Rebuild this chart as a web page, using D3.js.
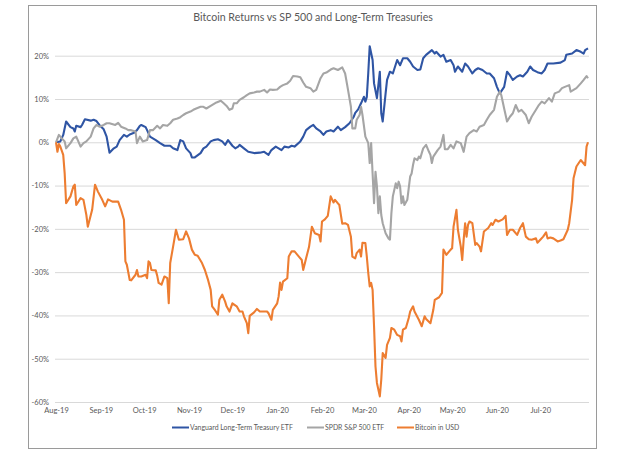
<!DOCTYPE html>
<html>
<head>
<meta charset="utf-8">
<script src="https://cdn.jsdelivr.net/npm/d3@7"></script>
<style>
  html, body { margin: 0; padding: 0; background: #fff; }
  svg { display: block; }
</style>
</head>
<body>
<div id="chart"></div>
<script>
// --- Data (cumulative return, %) ---
const treasuryDates = ["2019-08-01","2019-08-04","2019-08-06","2019-08-08","2019-08-11","2019-08-13","2019-08-14","2019-08-15","2019-08-18","2019-08-19","2019-08-21","2019-08-25","2019-08-27","2019-08-29","2019-08-31","2019-09-03","2019-09-05","2019-09-07","2019-09-10","2019-09-12","2019-09-14","2019-09-17","2019-09-19","2019-09-21","2019-09-24","2019-09-26","2019-09-28","2019-09-29","2019-10-02","2019-10-03","2019-10-05","2019-10-09","2019-10-12","2019-10-15","2019-10-19","2019-10-21","2019-10-24","2019-10-26","2019-10-28","2019-10-30","2019-11-02","2019-11-03","2019-11-05","2019-11-09","2019-11-11","2019-11-13","2019-11-16","2019-11-18","2019-11-21","2019-11-24","2019-11-26","2019-11-28","2019-12-01","2019-12-03","2019-12-05","2019-12-06","2019-12-09","2019-12-12","2019-12-16","2019-12-20","2019-12-23","2019-12-26","2019-12-28","2019-12-31","2020-01-02","2020-01-04","2020-01-06","2020-01-09","2020-01-11","2020-01-13","2020-01-17","2020-01-19","2020-01-21","2020-01-24","2020-01-26","2020-01-28","2020-01-31","2020-02-02","2020-02-04","2020-02-07","2020-02-09","2020-02-12","2020-02-14","2020-02-17","2020-02-20","2020-02-23","2020-02-24","2020-02-26","2020-02-28","2020-03-01","2020-03-02","2020-03-03","2020-03-04","2020-03-05","2020-03-07","2020-03-08","2020-03-10","2020-03-12","2020-03-13","2020-03-14","2020-03-16","2020-03-17","2020-03-19","2020-03-21","2020-03-24","2020-03-26","2020-03-28","2020-03-31","2020-04-02","2020-04-04","2020-04-07","2020-04-09","2020-04-11","2020-04-13","2020-04-17","2020-04-19","2020-04-20","2020-04-23","2020-04-25","2020-04-27","2020-04-30","2020-05-02","2020-05-03","2020-05-05","2020-05-08","2020-05-10","2020-05-12","2020-05-15","2020-05-17","2020-05-19","2020-05-22","2020-05-25","2020-05-27","2020-05-30","2020-06-01","2020-06-03","2020-06-06","2020-06-08","2020-06-10","2020-06-12","2020-06-15","2020-06-17","2020-06-19","2020-06-22","2020-06-24","2020-06-26","2020-06-29","2020-07-02","2020-07-04","2020-07-06","2020-07-10","2020-07-15","2020-07-18","2020-07-19","2020-07-23","2020-07-26","2020-07-29","2020-07-31","2020-08-01","2020-08-03"];
const treasuryValues = [0.0,0.2,1.7,4.8,3.5,3.2,2.5,3.8,3.5,4.0,5.3,5.0,5.2,4.9,4.0,3.0,1.3,-2.4,-1.4,-1.0,0.5,1.7,1.3,1.8,2.2,2.8,3.8,4.0,3.5,2.8,1.3,0.5,-0.2,-0.8,-0.8,-1.4,-1.8,0.5,0.2,-1.4,-2.5,-3.5,-3.5,-2.5,-1.4,-1.0,0.2,0.5,0.7,0.2,-0.6,0.5,-0.8,-1.4,-1.0,-0.6,-1.4,-2.2,-2.5,-2.4,-2.2,-2.9,-1.8,-1.0,-1.4,-1.8,-1.0,-1.2,-0.8,-1.0,0.2,1.3,2.8,3.6,4.0,3.2,2.5,1.7,2.5,2.8,2.5,3.6,2.8,3.5,4.4,5.9,6.8,7.6,9.0,10.5,9.4,10.5,16.0,22.2,19.0,13.6,10.2,16.3,6.7,4.8,11.3,14.4,16.3,15.9,19.0,17.8,19.4,19.4,18.6,17.5,16.7,16.8,19.4,20.2,21.3,20.5,20.9,19.8,20.2,18.6,19.0,17.8,16.3,17.5,16.3,18.2,17.5,15.9,16.7,17.1,16.7,15.9,15.9,14.8,12.8,11.3,12.8,16.3,15.5,14.4,15.2,15.5,15.2,16.3,17.5,16.7,16.2,15.9,16.7,18.2,18.2,18.4,19.0,20.2,20.5,21.3,20.9,20.5,21.3,21.7];

const spyDates = ["2019-08-01","2019-08-03","2019-08-05","2019-08-07","2019-08-08","2019-08-11","2019-08-13","2019-08-15","2019-08-18","2019-08-20","2019-08-22","2019-08-25","2019-08-27","2019-08-29","2019-08-31","2019-09-03","2019-09-05","2019-09-07","2019-09-11","2019-09-13","2019-09-15","2019-09-18","2019-09-20","2019-09-22","2019-09-25","2019-09-26","2019-09-28","2019-09-30","2019-10-03","2019-10-05","2019-10-07","2019-10-10","2019-10-12","2019-10-14","2019-10-17","2019-10-19","2019-10-21","2019-10-24","2019-10-26","2019-10-28","2019-10-30","2019-11-02","2019-11-04","2019-11-06","2019-11-09","2019-11-11","2019-11-13","2019-11-16","2019-11-18","2019-11-20","2019-11-23","2019-11-25","2019-11-27","2019-11-29","2019-12-01","2019-12-02","2019-12-04","2019-12-06","2019-12-09","2019-12-11","2019-12-13","2019-12-16","2019-12-18","2019-12-20","2019-12-23","2019-12-25","2019-12-27","2019-12-29","2020-01-01","2020-01-03","2020-01-05","2020-01-08","2020-01-10","2020-01-12","2020-01-15","2020-01-17","2020-01-19","2020-01-21","2020-01-24","2020-01-26","2020-01-28","2020-01-31","2020-02-02","2020-02-04","2020-02-07","2020-02-09","2020-02-12","2020-02-15","2020-02-17","2020-02-19","2020-02-21","2020-02-22","2020-02-24","2020-02-25","2020-02-27","2020-02-28","2020-02-29","2020-03-02","2020-03-04","2020-03-05","2020-03-06","2020-03-07","2020-03-08","2020-03-09","2020-03-10","2020-03-11","2020-03-12","2020-03-13","2020-03-14","2020-03-16","2020-03-18","2020-03-19","2020-03-20","2020-03-21","2020-03-23","2020-03-24","2020-03-25","2020-03-26","2020-03-27","2020-03-28","2020-03-29","2020-03-31","2020-04-01","2020-04-02","2020-04-03","2020-04-04","2020-04-05","2020-04-07","2020-04-08","2020-04-09","2020-04-10","2020-04-11","2020-04-12","2020-04-13","2020-04-15","2020-04-16","2020-04-17","2020-04-18","2020-04-21","2020-04-23","2020-04-25","2020-04-26","2020-04-28","2020-04-30","2020-05-02","2020-05-04","2020-05-07","2020-05-09","2020-05-11","2020-05-13","2020-05-16","2020-05-18","2020-05-20","2020-05-23","2020-05-25","2020-05-27","2020-05-30","2020-06-01","2020-06-03","2020-06-04","2020-06-06","2020-06-08","2020-06-10","2020-06-12","2020-06-14","2020-06-16","2020-06-18","2020-06-21","2020-06-23","2020-06-25","2020-06-28","2020-06-30","2020-07-02","2020-07-04","2020-07-07","2020-07-09","2020-07-11","2020-07-14","2020-07-16","2020-07-18","2020-07-21","2020-07-22","2020-07-24","2020-07-26","2020-07-29","2020-07-31","2020-08-02","2020-08-03"];
const spyValues = [0.0,1.7,0.9,0.2,-1.4,-0.2,0.9,1.3,-1.0,-0.2,0.2,1.3,3.2,4.0,3.6,4.0,4.4,4.4,4.0,4.5,3.6,3.2,2.8,2.8,2.5,-0.2,1.3,0.2,0.5,2.8,2.8,3.8,3.2,4.0,3.8,4.4,5.2,5.5,5.8,6.3,6.7,7.1,7.5,7.8,8.2,8.2,7.8,8.4,8.8,9.2,9.6,9.0,8.4,7.5,7.8,9.0,9.0,9.8,10.4,10.9,11.3,11.5,11.7,11.7,12.1,11.5,12.2,12.1,12.2,12.8,13.2,13.6,14.2,15.3,15.2,15.0,13.8,12.8,12.5,11.7,12.1,14.8,15.9,16.1,16.8,17.1,16.7,17.3,15.9,12.1,8.2,3.2,3.2,5.2,6.3,8.2,6.3,1.3,-0.2,-4.8,-0.2,-7.2,-14.1,-6.8,-10.2,-16.4,-12.5,-16.8,-18.7,-21.0,-22.2,-22.5,-16.4,-12.5,-9.5,-10.6,-9.1,-10.2,-14.1,-12.5,-14.5,-13.3,-10.6,-7.9,-7.2,-5.2,-3.7,-4.1,-3.3,-3.7,-2.5,-1.4,-1.0,-0.6,-2.2,-2.9,-4.8,-3.3,-1.8,-1.0,1.7,-1.6,-1.6,-0.6,-1.4,0.2,-0.2,-2.2,1.3,2.1,2.8,2.5,3.6,4.0,5.2,6.3,7.5,10.5,11.7,10.9,7.8,4.8,5.9,6.7,8.6,7.1,7.5,6.3,4.4,5.9,7.5,8.6,9.4,9.0,10.2,9.4,11.3,11.7,12.5,12.8,13.2,11.7,12.1,12.5,13.6,14.4,15.3,14.8];

const btcDates = ["2019-08-01","2019-08-02","2019-08-03","2019-08-04","2019-08-06","2019-08-07","2019-08-08","2019-08-11","2019-08-13","2019-08-14","2019-08-15","2019-08-18","2019-08-20","2019-08-22","2019-08-23","2019-08-26","2019-08-28","2019-08-30","2019-09-02","2019-09-04","2019-09-06","2019-09-09","2019-09-11","2019-09-13","2019-09-15","2019-09-17","2019-09-18","2019-09-19","2019-09-21","2019-09-22","2019-09-25","2019-09-26","2019-09-27","2019-09-29","2019-10-02","2019-10-03","2019-10-04","2019-10-05","2019-10-06","2019-10-09","2019-10-10","2019-10-11","2019-10-13","2019-10-15","2019-10-17","2019-10-18","2019-10-19","2019-10-21","2019-10-23","2019-10-25","2019-10-28","2019-10-30","2019-11-01","2019-11-03","2019-11-05","2019-11-07","2019-11-10","2019-11-12","2019-11-14","2019-11-16","2019-11-17","2019-11-19","2019-11-21","2019-11-22","2019-11-24","2019-11-26","2019-11-27","2019-11-29","2019-12-01","2019-12-04","2019-12-06","2019-12-08","2019-12-09","2019-12-11","2019-12-12","2019-12-13","2019-12-16","2019-12-18","2019-12-20","2019-12-22","2019-12-25","2019-12-26","2019-12-28","2019-12-29","2020-01-01","2020-01-02","2020-01-03","2020-01-04","2020-01-05","2020-01-08","2020-01-09","2020-01-11","2020-01-13","2020-01-16","2020-01-18","2020-01-19","2020-01-21","2020-01-23","2020-01-25","2020-01-27","2020-01-30","2020-01-31","2020-02-01","2020-02-03","2020-02-05","2020-02-07","2020-02-09","2020-02-10","2020-02-12","2020-02-13","2020-02-15","2020-02-17","2020-02-19","2020-02-21","2020-02-22","2020-02-24","2020-02-25","2020-02-27","2020-02-28","2020-02-29","2020-03-02","2020-03-03","2020-03-04","2020-03-05","2020-03-06","2020-03-07","2020-03-08","2020-03-09","2020-03-10","2020-03-12","2020-03-13","2020-03-14","2020-03-16","2020-03-17","2020-03-19","2020-03-20","2020-03-22","2020-03-24","2020-03-26","2020-03-27","2020-03-28","2020-03-30","2020-04-01","2020-04-02","2020-04-04","2020-04-05","2020-04-08","2020-04-10","2020-04-12","2020-04-13","2020-04-16","2020-04-18","2020-04-19","2020-04-22","2020-04-24","2020-04-25","2020-04-27","2020-04-30","2020-05-01","2020-05-02","2020-05-04","2020-05-05","2020-05-07","2020-05-08","2020-05-09","2020-05-10","2020-05-11","2020-05-12","2020-05-13","2020-05-15","2020-05-17","2020-05-18","2020-05-20","2020-05-21","2020-05-23","2020-05-26","2020-05-28","2020-05-29","2020-05-31","2020-06-02","2020-06-05","2020-06-07","2020-06-08","2020-06-10","2020-06-12","2020-06-15","2020-06-17","2020-06-19","2020-06-21","2020-06-23","2020-06-25","2020-06-28","2020-06-29","2020-07-01","2020-07-03","2020-07-05","2020-07-06","2020-07-08","2020-07-10","2020-07-13","2020-07-15","2020-07-17","2020-07-20","2020-07-21","2020-07-23","2020-07-24","2020-07-26","2020-07-29","2020-07-30","2020-08-01","2020-08-02","2020-08-03"];
const btcValues = [0.0,-2.2,-0.4,-1.0,-2.9,-7.2,-14.1,-12.5,-10.2,-9.8,-14.5,-12.9,-13.3,-16.8,-19.5,-15.6,-9.8,-11.4,-13.3,-14.8,-13.2,-13.7,-13.7,-13.7,-15.6,-17.9,-27.5,-28.3,-31.8,-31.9,-30.6,-29.5,-31.0,-31.0,-30.6,-31.4,-27.5,-27.9,-29.5,-29.6,-30.8,-32.5,-32.9,-31.0,-31.4,-37.2,-27.9,-24.1,-20.2,-22.5,-22.4,-20.6,-22.2,-24.8,-26.0,-26.2,-27.9,-29.5,-31.6,-34.1,-37.9,-38.8,-39.8,-36.4,-35.2,-36.8,-37.9,-39.1,-37.2,-37.9,-39.1,-39.1,-40.2,-41.8,-44.1,-40.1,-39.3,-38.5,-39.1,-39.1,-39.1,-39.5,-41.0,-38.7,-37.2,-35.6,-32.4,-34.1,-32.2,-31.4,-26.4,-25.2,-25.2,-26.4,-27.2,-29.5,-26.8,-24.2,-19.5,-21.0,-21.4,-22.9,-18.3,-17.8,-17.0,-12.5,-13.9,-13.3,-14.1,-14.5,-18.8,-18.7,-19.1,-21.8,-26.4,-26.8,-25.6,-24.8,-26.4,-23.2,-23.3,-26.4,-30.2,-33.3,-32.5,-34.1,-42.5,-51.8,-55.6,-58.7,-54.8,-48.7,-49.8,-46.8,-45.2,-42.9,-43.3,-44.5,-44.8,-46.0,-43.3,-42.9,-40.6,-39.1,-37.9,-39.1,-41.0,-42.5,-40.2,-40.8,-41.8,-38.7,-36.4,-35.8,-34.8,-24.8,-26.0,-24.8,-24.5,-19.5,-15.6,-20.2,-24.1,-27.2,-22.5,-18.7,-21.8,-19.1,-18.3,-18.7,-23.7,-23.3,-24.1,-25.2,-20.6,-19.8,-18.7,-19.1,-17.9,-18.3,-17.8,-17.0,-21.4,-20.2,-20.2,-21.4,-19.8,-18.7,-21.8,-22.4,-22.5,-22.2,-23.2,-22.5,-21.8,-20.8,-22.2,-22.0,-22.2,-22.9,-22.7,-22.4,-20.2,-18.7,-13.3,-8.3,-5.6,-4.1,-4.5,-5.3,-1.0,0.0];

const seriesNames = ["Vanguard Long-Term Treasury ETF", "SPDR S&P 500 ETF", "Bitcoin in USD"];
const seriesColors = ["#2f55a4", "#a5a5a5", "#ed7d31"];
const monthTicks = ["2019-08-01","2019-09-01","2019-10-01","2019-11-01","2019-12-01","2020-01-01","2020-02-01","2020-03-01","2020-04-01","2020-05-01","2020-06-01","2020-07-01"];
const yTicks = [-60, -50, -40, -30, -20, -10, 0, 10, 20];
const xDomain = ["2019-08-01", "2020-08-03"];

const width = 625, height = 452;
const plot = { left: 55, right: 589, top: 55.7, bottom: 402 };
const font = "Lato, 'Open Sans', sans-serif";
const parseDate = d3.timeParse("%Y-%m-%d");

const svg = d3.select("#chart").append("svg")
    .attr("width", width)
    .attr("height", height);

// chart frame
svg.append("rect")
    .attr("x", 28.5).attr("y", 5.5)
    .attr("width", 568).attr("height", 443)
    .attr("fill", "#fff")
    .attr("stroke", "#9a9a9a")
    .attr("stroke-width", 1);

const x = d3.scaleTime()
    .domain(xDomain.map(parseDate))
    .range([plot.left + 1, plot.right - 1]);

const y = d3.scaleLinear()
    .domain([-60, 20])
    .range([plot.bottom, plot.top]);

// --- Gridlines + y labels ---
const yAxis = svg.append("g")
    .attr("transform", `translate(${plot.left}, 0)`)
    .call(d3.axisLeft(y)
        .tickValues(yTicks)
        .tickSize(-(plot.right - plot.left))
        .tickPadding(6)
        .tickFormat(d => d + "%"));
yAxis.select(".domain").remove();
yAxis.selectAll("line").attr("stroke", "#d9d9d9").attr("stroke-width", 1);
yAxis.selectAll("text")
    .attr("fill", "#595959")
    .attr("font-family", font)
    .attr("font-size", "7.5px");

// --- x labels ---
const xAxis = svg.append("g")
    .attr("transform", `translate(0, ${plot.bottom})`)
    .call(d3.axisBottom(x)
        .tickValues(monthTicks.map(parseDate))
        .tickSize(0)
        .tickPadding(6)
        .tickFormat(d3.timeFormat("%b-%y")));
xAxis.select(".domain").remove();
xAxis.selectAll("text")
    .attr("fill", "#595959")
    .attr("font-family", font)
    .attr("font-size", "7.5px");

// --- Lines ---
const series = [
    { dates: treasuryDates, values: treasuryValues },
    { dates: spyDates, values: spyValues },
    { dates: btcDates, values: btcValues }
];

const line = d3.line()
    .x(d => x(d.date))
    .y(d => y(d.value));

series.forEach((s, i) => {
    const pts = s.dates.map((d, j) => ({ date: parseDate(d), value: s.values[j] }));
    svg.append("path")
        .datum(pts)
        .attr("fill", "none")
        .attr("stroke", seriesColors[i])
        .attr("stroke-width", 2.1)
        .attr("stroke-linejoin", "round")
        .attr("d", line);
});

// --- Title ---
svg.append("text")
    .attr("x", 313)
    .attr("y", 21)
    .attr("text-anchor", "middle")
    .attr("font-family", font)
    .attr("font-size", "10.6px")
    .attr("fill", "#595959")
    .text("Bitcoin Returns vs SP 500 and Long-Term Treasuries");

// --- Legend ---
const legendX = [172, 307, 397];
const legend = svg.append("g").attr("transform", "translate(0, 427.5)");
seriesNames.forEach((name, i) => {
    legend.append("line")
        .attr("x1", legendX[i]).attr("x2", legendX[i] + 17)
        .attr("y1", 0).attr("y2", 0)
        .attr("stroke", seriesColors[i])
        .attr("stroke-width", 2);
    legend.append("text")
        .attr("x", legendX[i] + 18)
        .attr("y", 2.5)
        .attr("font-family", font)
        .attr("font-size", "6.9px")
        .attr("fill", "#595959")
        .text(name);
});
</script>
</body>
</html>
